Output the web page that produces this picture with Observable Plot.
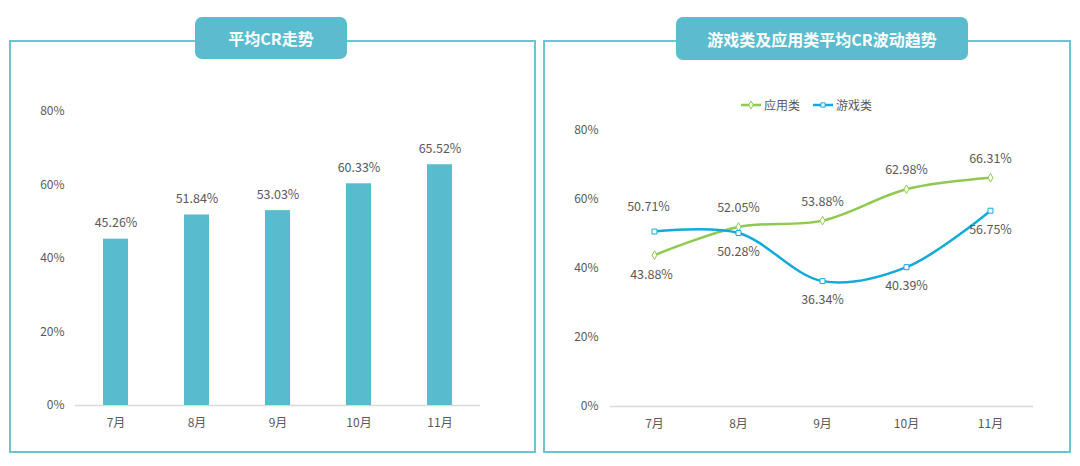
<!DOCTYPE html>
<html>
<head>
<meta charset="utf-8">
<script src="https://cdn.jsdelivr.net/npm/d3@7"></script>
<script src="https://cdn.jsdelivr.net/npm/@observablehq/plot@0.6"></script>
<style>
  html, body { margin: 0; padding: 0; background: #ffffff; }
  body { font-family: "Noto Sans CJK SC", "Noto Sans", sans-serif; }
  #page { position: relative; width: 1080px; height: 466px; overflow: hidden; background: #fff; }
  .panel { position: absolute; box-sizing: border-box; border: 2px solid #6cc3d2; background: #fff; }
  .badge { position: absolute; box-sizing: border-box; background: #5bbccf; color: #fff; font-weight: bold;
           font-size: 16px; border-radius: 7px; display: flex; align-items: center; justify-content: center; z-index: 2; }
  .chart { position: absolute; z-index: 1; }
  .legend { position: absolute; display: flex; align-items: center; font-size: 12px; color: #595959; z-index: 3; }
  .legend .item { display: flex; align-items: center; margin-right: 13px; }
  .legend svg { margin-right: 3px; }
</style>
</head>
<body>
<div id="page">
  <div class="panel" style="left:9px; top:40px; width:527px; height:413px;"></div>
  <div class="panel" style="left:543px; top:40px; width:528px; height:413px;"></div>
  <div class="badge" style="left:195px; top:17px; width:152px; height:42px;">平均CR走势</div>
  <div class="badge" style="left:676px; top:17px; width:292px; height:43px;">游戏类及应用类平均CR波动趋势</div>
  <div id="left" class="chart" style="left:10px; top:60px;"></div>
  <div id="right" class="chart" style="left:545px; top:60px;"></div>
  <div id="legend" class="legend" style="left:741px; top:96px;"></div>
</div>
<script>
// ---- data ----
const months = ["7月", "8月", "9月", "10月", "11月"];
const avgCR = [45.26, 51.84, 53.03, 60.33, 65.52];
const seriesNames = ["应用类", "游戏类"];
const appCR = [43.88, 52.05, 53.88, 62.98, 66.31];
const gameCR = [50.71, 50.28, 36.34, 40.39, 56.75];
const appLabelPos = ["below", "above", "above", "above", "above"];
const gameLabelPos = ["above", "below", "below", "below", "below"];
const yTicks = [0, 20, 40, 60, 80];

// ---- styling ----
const FONT = "'Noto Sans CJK SC', 'Noto Sans', sans-serif";
const TEXT = "#595959";
const BAR = "#59bbce";
const GREEN = "#8fc94f";
const BLUE = "#13a9da";
const GRID = "#d9d9d9";
const pct = d => d + "%";
const pct2 = d => d.toFixed(2) + "%";

const barData = months.map((m, i) => ({month: m, value: avgCR[i]}));
const appData = months.map((m, i) => ({month: m, value: appCR[i], pos: appLabelPos[i]}));
const gameData = months.map((m, i) => ({month: m, value: gameCR[i], pos: gameLabelPos[i]}));

const left = Plot.plot({
  width: 520, height: 385,
  marginLeft: 65, marginRight: 50, marginTop: 51, marginBottom: 40,
  style: {fontFamily: FONT, fontSize: "12px", color: TEXT, background: "transparent"},
  x: {domain: months, paddingInner: 0.69, paddingOuter: 0.345, label: null, tickSize: 0, tickPadding: 13},
  y: {domain: [0, 80], ticks: yTicks, tickFormat: pct, label: null, tickSize: 0, tickPadding: 11},
  marks: [
    Plot.ruleY([0], {stroke: GRID, strokeWidth: 1.5}),
    Plot.barY(barData, {x: "month", y: "value", fill: BAR}),
    Plot.text(barData, {x: "month", y: "value", text: d => pct2(d.value), dy: -16, fill: TEXT, fontSize: 12.5})
  ]
});
document.getElementById("left").appendChild(left);

const right = Plot.plot({
  width: 527, height: 386,
  marginLeft: 65, marginRight: 39, marginTop: 70, marginBottom: 40,
  style: {fontFamily: FONT, fontSize: "12px", color: TEXT, background: "transparent"},
  x: {type: "point", domain: months, padding: 0.5, label: null, tickSize: 0, tickPadding: 13},
  y: {domain: [0, 80], ticks: yTicks, tickFormat: pct, label: null, tickSize: 0, tickPadding: 12},
  marks: [
    Plot.ruleY([0], {stroke: GRID, strokeWidth: 1.5}),
    Plot.line(appData, {x: "month", y: "value", stroke: GREEN, strokeWidth: 2.5, curve: "catmull-rom"}),
    Plot.line(gameData, {x: "month", y: "value", stroke: BLUE, strokeWidth: 2.5, curve: "catmull-rom"}),
    Plot.dot(appData, {x: "month", y: "value", symbol: "diamond", r: 2.6, fill: "white", stroke: GREEN, strokeWidth: 1}),
    Plot.dot(gameData, {x: "month", y: "value", symbol: "square", r: 2.8, fill: "white", stroke: BLUE, strokeWidth: 1}),
    Plot.text(appData.filter(d => d.pos === "above"), {x: "month", y: "value", text: d => pct2(d.value), dy: -19, fill: TEXT, fontSize: 12.5}),
    Plot.text(appData.filter(d => d.pos === "below"), {x: "month", y: "value", text: d => pct2(d.value), dy: 20, dx: -3, fill: TEXT, fontSize: 12.5}),
    Plot.text(gameData.filter(d => d.pos === "above"), {x: "month", y: "value", text: d => pct2(d.value), dy: -25, dx: -6, fill: TEXT, fontSize: 12.5}),
    Plot.text(gameData.filter(d => d.pos === "below"), {x: "month", y: "value", text: d => pct2(d.value), dy: 19, fill: TEXT, fontSize: 12.5})
  ]
});
document.getElementById("right").appendChild(right);

// ---- legend ----
const legend = d3.select("#legend");
const legendColors = [GREEN, BLUE];
const legendSymbols = ["diamond", "square"];
seriesNames.forEach((name, i) => {
  const item = legend.append("div").attr("class", "item");
  const svg = item.append("svg").attr("width", 20).attr("height", 10);
  svg.append("line").attr("x1", 0).attr("x2", 20).attr("y1", 5).attr("y2", 5)
    .attr("stroke", legendColors[i]).attr("stroke-width", 2.5);
  const sym = legendSymbols[i] === "diamond" ? d3.symbolDiamond : d3.symbolSquare;
  svg.append("path").attr("d", d3.symbol(sym, 18)()).attr("transform", "translate(10,5)")
    .attr("fill", "white").attr("stroke", legendColors[i]).attr("stroke-width", 1);
  item.append("span").text(name);
});
</script>
</body>
</html>
